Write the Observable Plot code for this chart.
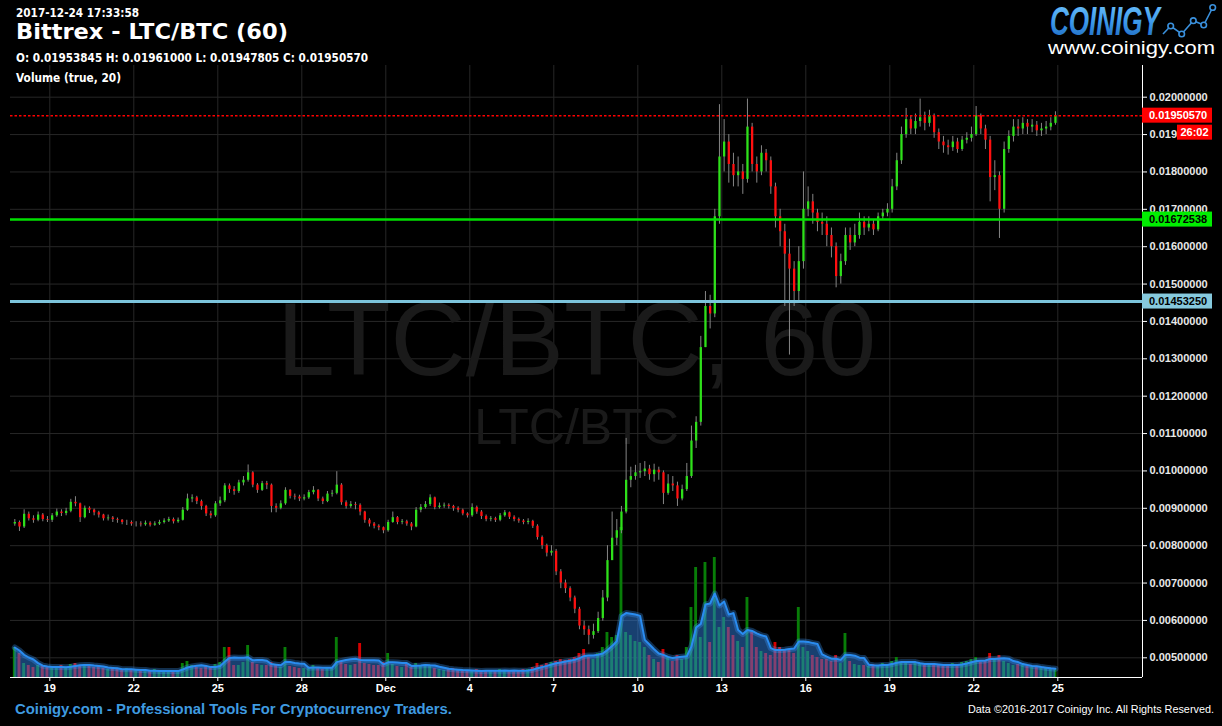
<!DOCTYPE html>
<html><head><meta charset="utf-8">
<script src="https://cdn.jsdelivr.net/npm/d3@7"></script>
<script src="https://cdn.jsdelivr.net/npm/@observablehq/plot@0.6"></script>
<style>
html,body{margin:0;padding:0;background:#000;}
#wrap{position:relative;width:1222px;height:726px;background:#000;overflow:hidden;}
#wrap svg{position:absolute;left:0;top:0;}
</style></head><body><div id="wrap"></div>
<script>
// ---- data (4-hour candles, first candle 2017-11-17 16:00 UTC) ----
const firstOpen = 0.00858;
const closes = [
.00862,.00850,
.00884,.00872,.00868,.00882,.00870,.00868,
.00880,.00890,.00886,.00892,.00916,.00912,
.00875,.00900,.00895,.00888,.00882,.00872,
.00874,.00870,.00868,.00862,.00862,.00858,
.00858,.00856,.00860,.00855,.00858,.00862,
.00866,.00870,.00864,.00868,.00895,.00925,
.00928,.00918,.00905,.00885,.00880,.00912,
.00920,.00960,.00950,.00945,.00968,.00975,
.00995,.00962,.00948,.00966,.00962,.00905,
.00900,.00912,.00948,.00932,.00930,.00925,
.00928,.00942,.00948,.00925,.00918,.00938,
.00940,.00962,.00915,.00905,.00910,.00908,
.00890,.00868,.00858,.00852,.00848,.00840,
.00862,.00875,.00862,.00864,.00858,.00850,
.00895,.00902,.00910,.00928,.00902,.00906,
.00908,.00905,.00900,.00895,.00885,.00880,
.00902,.00890,.00878,.00870,.00872,.00868,
.00880,.00888,.00876,.00870,.00866,.00862,
.00865,.00852,.00822,.00800,.00780,.00785,
.00730,.00700,.00685,.00660,.00630,.00585,
.00575,.00560,.00570,.00605,.00660,.00760,
.00820,.00840,.00890,.00975,.00985,.00995,
.00998,.01005,.00990,.01002,.00995,.00940,
.00965,.00960,.00925,.00950,.00985,.01080,
.01130,.01330,.01440,.01420,.01680,.01840,
.01880,.01820,.01790,.01800,.01780,.01920,
.01820,.01800,.01850,.01830,.01760,.01680,
.01640,.01580,.01540,.01480,.01560,.01700,
.01720,.01690,.01665,.01660,.01630,.01600,
.01520,.01560,.01630,.01610,.01630,.01665,
.01650,.01660,.01645,.01680,.01690,.01700,
.01760,.01830,.01900,.01940,.01915,.01935,
.01945,.01930,.01950,.01905,.01880,.01870,
.01865,.01880,.01860,.01885,.01890,.01900,
.01950,.01915,.01885,.01785,.01790,.01700,
.01860,.01895,.01920,.01915,.01930,.01920,
.01925,.01910,.01915,.01920,.01930,.01950];
const highs = [
.00870,.00866,
.00896,.00890,.00880,.00890,.00886,.00878,
.00886,.00898,.00896,.00900,.00924,.00931,
.00914,.00906,.00904,.00898,.00892,.00884,
.00882,.00878,.00874,.00870,.00868,.00866,
.00864,.00864,.00866,.00864,.00864,.00868,
.00872,.00876,.00874,.00874,.00902,.00938,
.00936,.00932,.00922,.00908,.00892,.00918,
.00930,.00966,.00965,.00958,.00975,.00985,
.01016,.00998,.00966,.00972,.00972,.00965,
.00912,.00920,.00955,.00950,.00938,.00935,
.00936,.00948,.00958,.00950,.00930,.00945,
.00948,.00998,.00966,.00920,.00918,.00916,
.00912,.00892,.00872,.00862,.00856,.00850,
.00868,.00890,.00878,.00870,.00868,.00862,
.00902,.00910,.00918,.00936,.00930,.00914,
.00914,.00912,.00908,.00904,.00898,.00888,
.00912,.00906,.00894,.00882,.00878,.00876,
.00886,.00894,.00890,.00880,.00874,.00870,
.00872,.00868,.00856,.00826,.00804,.00800,
.00790,.00736,.00708,.00690,.00665,.00635,
.00598,.00585,.00590,.00622,.00680,.00800,
.00890,.00870,.00905,.01087,.01010,.01015,
.01020,.01025,.01015,.01018,.01010,.01000,
.00990,.00985,.00970,.00962,.01020,.01120,
.01145,.01360,.01480,.01470,.01700,.01980,
.01940,.01900,.01850,.01840,.01820,.01995,
.01930,.01840,.01870,.01860,.01840,.01770,
.01700,.01660,.01620,.01560,.01600,.01800,
.01760,.01740,.01700,.01690,.01680,.01650,
.01610,.01580,.01650,.01650,.01660,.01690,
.01680,.01680,.01670,.01690,.01700,.01715,
.01780,.01850,.01920,.01970,.01950,.01955,
.01995,.01960,.01965,.01955,.01915,.01895,
.01885,.01895,.01890,.01895,.01905,.01920,
.01975,.01955,.01925,.01895,.01830,.01800,
.01880,.01910,.01940,.01940,.01945,.01940,
.01940,.01935,.01930,.01935,.01945,.01961];
const lows = [
.00852,.00838,
.00846,.00866,.00860,.00864,.00864,.00862,
.00862,.00876,.00878,.00880,.00888,.00904,
.00862,.00872,.00886,.00880,.00874,.00866,
.00866,.00862,.00860,.00856,.00854,.00852,
.00850,.00850,.00852,.00850,.00852,.00854,
.00858,.00862,.00858,.00860,.00866,.00892,
.00915,.00910,.00895,.00878,.00872,.00876,
.00905,.00915,.00940,.00935,.00940,.00960,
.00970,.00955,.00940,.00945,.00950,.00888,
.00888,.00896,.00908,.00925,.00922,.00918,
.00920,.00924,.00936,.00918,.00910,.00915,
.00930,.00936,.00908,.00898,.00900,.00896,
.00880,.00860,.00850,.00845,.00840,.00832,
.00836,.00860,.00856,.00856,.00852,.00840,
.00848,.00888,.00898,.00905,.00896,.00898,
.00900,.00898,.00892,.00888,.00880,.00874,
.00876,.00884,.00870,.00864,.00864,.00862,
.00864,.00876,.00870,.00864,.00860,.00856,
.00856,.00846,.00815,.00790,.00770,.00772,
.00720,.00685,.00672,.00650,.00618,.00575,
.00560,.00535,.00550,.00565,.00598,.00650,
.00770,.00800,.00832,.00885,.00955,.00975,
.00980,.00985,.00975,.00970,.00975,.00910,
.00935,.00945,.00905,.00920,.00945,.00980,
.01060,.01120,.01330,.01380,.01410,.01660,
.01800,.01770,.01760,.01760,.01740,.01770,
.01800,.01770,.01790,.01800,.01740,.01650,
.01600,.01440,.01310,.01440,.01450,.01540,
.01680,.01660,.01640,.01630,.01600,.01570,
.01490,.01500,.01550,.01590,.01600,.01620,
.01630,.01640,.01630,.01640,.01670,.01680,
.01690,.01750,.01820,.01890,.01900,.01900,
.01920,.01910,.01920,.01890,.01860,.01850,
.01845,.01855,.01850,.01855,.01875,.01880,
.01895,.01900,.01860,.01720,.01750,.01622,
.01690,.01850,.01880,.01895,.01900,.01900,
.01905,.01895,.01895,.01900,.01910,.01925];
const volumes = [
30,24,
14,12,10,12,11,10,
10,9,12,10,13,14,
12,13,11,10,12,9,
8,9,8,7,9,8,
7,6,7,6,8,6,
6,7,6,7,14,16,
12,10,9,11,10,13,
15,30,30,12,12,15,
32,15,13,12,12,15,
12,10,30,11,10,9,
9,10,12,10,8,9,
10,40,16,13,12,13,
34,14,13,12,12,15,
24,13,11,10,14,10,
14,12,13,12,9,8,
7,8,9,7,6,6,
7,8,6,7,6,7,
8,7,6,7,6,8,
8,10,14,12,14,15,
16,18,17,18,20,24,
28,20,18,24,30,45,
40,42,150,45,42,36,
35,30,22,18,15,28,
20,16,22,18,30,70,
110,40,115,35,120,50,
60,50,42,36,30,80,
45,30,26,24,22,35,
30,28,28,24,70,30,
26,22,20,18,18,16,
22,14,44,16,13,12,
12,11,13,12,14,12,
16,20,15,14,13,15,
14,12,13,14,12,11,
12,14,13,15,16,18,
20,15,16,24,18,22,
16,14,12,13,12,11,
10,10,9,9,8,8];
const priceTicks = [0.005,0.006,0.007,0.008,0.009,0.010,0.011,0.012,0.013,0.014,0.015,0.016,0.017,0.018,0.019,0.020];
const dayTicks = ["2017-11-19","2017-11-22","2017-11-25","2017-11-28","2017-12-01","2017-12-04","2017-12-07","2017-12-10","2017-12-13","2017-12-16","2017-12-19","2017-12-22","2017-12-25"];
const dayLabels = ["19","22","25","28","Dec","4","7","10","13","16","19","22","25"];
const levelPrices = [0.0195057, 0.01672538, 0.0145325];
const levelTexts = ["0.01950570", "0.01672538", "0.01453250"];
const countdown = "26:02";

// ---- build ----
const H4 = 4 * 3600e3;
const start = Date.UTC(2017, 10, 17, 16);
const candles = closes.map((c, i) => {
  const o = i ? closes[i - 1] : firstOpen;
  return {t0: new Date(start + i * H4), t1: new Date(start + (i + 1) * H4), tm: new Date(start + i * H4 + H4 / 2),
    open: o, close: c, high: highs[i], low: lows[i], vol: volumes[i], up: c >= o};
});
const ups = candles.filter(d => d.up), downs = candles.filter(d => !d.up);
const tickDates = dayTicks.map(s => new Date(s + "T00:00:00Z"));
const labelMap = new Map(tickDates.map((d, i) => [+d, dayLabels[i]]));
const xDomain = [new Date(Date.UTC(2017, 10, 17, 14, 19)), new Date(Date.UTC(2017, 11, 28, 0, 36))];
const yDomain = [0.004473, 0.020848];
const common = {width: 1222, height: 726, marginLeft: 10, marginRight: 80, marginTop: 65, marginBottom: 49};
const wrap = document.getElementById("wrap");
const FONT = "Liberation Sans, Arial, sans-serif";

// layer A: background grid + watermark
const plotA = Plot.plot({...common,
  x: {type: "utc", domain: xDomain, axis: null}, y: {domain: yDomain, axis: null},
  style: {background: "#000"},
  marks: [
    Plot.gridY(priceTicks, {stroke: "#272727", strokeOpacity: 1}),
    Plot.gridX(tickDates, {stroke: "#272727", strokeOpacity: 1}),
    Plot.text(["LTC/BTC, 60"], {text: d => d, frameAnchor: "middle", dy: -30, fontSize: 104, fill: "#1a1a1a", fontFamily: FONT}),
    Plot.text(["LTC/BTC"], {text: d => d, frameAnchor: "middle", dy: 56, fontSize: 50, fill: "#1a1a1a", fontFamily: FONT})
  ]});
wrap.appendChild(plotA);

// layer B: volume + MA(20 hours ~ 5 four-hour bars)
const plotB = Plot.plot({...common,
  x: {type: "utc", domain: xDomain, axis: null}, y: {domain: [0, 612], axis: null},
  style: {background: "transparent"},
  marks: [
    Plot.rect(ups, {x1: "t0", x2: "t1", y1: 0, y2: "vol", fill: "#087d08", insetLeft: 0.9, insetRight: 0.9}),
    Plot.rect(downs, {x1: "t0", x2: "t1", y1: 0, y2: "vol", fill: "#d60000", insetLeft: 0.9, insetRight: 0.9}),
    Plot.areaY(candles, Plot.windowY({k: 5, anchor: "end"}, {x: "tm", y: "vol", fill: "#2f80e0", fillOpacity: 0.5})),
    Plot.lineY(candles, Plot.windowY({k: 5, anchor: "end"}, {x: "tm", y: "vol", stroke: "#3a9cff", strokeWidth: 6, strokeOpacity: 0.3})),
    Plot.lineY(candles, Plot.windowY({k: 5, anchor: "end"}, {x: "tm", y: "vol", stroke: "#2a8cf0", strokeWidth: 2}))
  ]});
wrap.appendChild(plotB);

// layer C: candles, levels, axes
const plotC = Plot.plot({...common,
  x: {type: "utc", domain: xDomain}, y: {domain: yDomain},
  style: {background: "transparent", color: "#e8e8e8", fontFamily: FONT, fontSize: "11px", fontWeight: "bold"},
  marks: [
    Plot.ruleX(candles, {x: "tm", y1: "low", y2: "high", stroke: "#858585", strokeWidth: 1}),
    Plot.ruleX(ups, {x: "tm", y1: "open", y2: "close", stroke: "#2ee01a", strokeWidth: 2.3}),
    Plot.ruleX(downs, {x: "tm", y1: "open", y2: "close", stroke: "#ff1010", strokeWidth: 2.3}),
    Plot.ruleY([levelPrices[2]], {stroke: "#7cc4dc", strokeWidth: 3}),
    Plot.ruleY([levelPrices[1]], {stroke: "#00e000", strokeWidth: 2.5}),
    Plot.ruleY([levelPrices[0]], {stroke: "#ff0000", strokeWidth: 1.5, strokeDasharray: "2.5,2"}),
    Plot.ruleX([xDomain[1]], {stroke: "#ffffff"}),
    Plot.ruleY([yDomain[0]], {stroke: "#ffffff"}),
    Plot.axisY(priceTicks, {anchor: "right", tickSize: 4, tickPadding: 3, tickFormat: d => d.toFixed(8), stroke: "#ffffff", fill: "#e8e8e8", label: null}),
    Plot.axisX(tickDates, {anchor: "bottom", tickSize: 4, tickPadding: 3, tickFormat: d => labelMap.get(+d), stroke: "#ffffff", fill: "#ffffff", label: null})
  ]});
wrap.appendChild(plotC);

// price tags on the right axis, placed through the y scale
const ys = plotC.scale("y");
const svgC = d3.select(plotC);
const xr = common.width - common.marginRight;
const tagStyles = [{bg: "#ff0000", fg: "#ffffff"}, {bg: "#00ee00", fg: "#000000"}, {bg: "#86c9dd", fg: "#000000"}];
levelPrices.forEach((p, i) => {
  const y = ys.apply(p);
  svgC.append("rect").attr("x", xr).attr("y", y - 7.5).attr("width", 70).attr("height", 15).attr("fill", tagStyles[i].bg);
  svgC.append("text").attr("x", xr + 7).attr("y", y + 4).attr("fill", tagStyles[i].fg).attr("text-anchor", "start")
    .attr("font-family", FONT).attr("font-size", 11).attr("font-weight", "bold").text(levelTexts[i]);
  if (i === 0) {
    svgC.append("rect").attr("x", xr + 35).attr("y", y + 9.5).attr("width", 35).attr("height", 15).attr("fill", "#ff0000");
    svgC.append("text").attr("x", xr + 52.5).attr("y", y + 21).attr("text-anchor", "middle").attr("fill", "#fff")
      .attr("font-family", FONT).attr("font-size", 11).attr("font-weight", "bold").text(countdown);
  }
});

// header, logo, footer
const hdr = d3.select(wrap).append("svg").attr("width", 1222).attr("height", 726).style("pointer-events", "none");
const defs = hdr.append("defs");
const lg = defs.append("linearGradient").attr("id", "logoGrad").attr("x1", 0).attr("y1", 0).attr("x2", 0).attr("y2", 1);
lg.append("stop").attr("offset", 0).attr("stop-color", "#74c8ff");
lg.append("stop").attr("offset", 0.55).attr("stop-color", "#3a96e8");
lg.append("stop").attr("offset", 1).attr("stop-color", "#1a62b8");
function txt(s, x, y, size, opts = {}) {
  const t = hdr.append("text").attr("x", x).attr("y", y).attr("font-size", size)
    .attr("font-family", opts.family || "DejaVu Sans, Verdana, sans-serif")
    .attr("font-weight", opts.weight || "bold").attr("fill", opts.fill || "#fff").text(s);
  if (opts.len) t.attr("textLength", opts.len).attr("lengthAdjust", "spacingAndGlyphs");
  if (opts.style) t.attr("font-style", opts.style);
  return t;
}
txt("2017-12-24 17:33:58", 16, 16.5, 12, {len: 123});
txt("Bittrex - LTC/BTC (60)", 16, 39, 22, {len: 272});
txt("O: 0.01953845 H: 0.01961000 L: 0.01947805 C: 0.01950570", 16, 61.5, 11.5, {len: 352});
txt("Volume (true, 20)", 16, 81.5, 11.5, {len: 105});
txt("COINIGY", 1050, 35, 40, {family: "Liberation Sans Narrow, Liberation Sans, Arial, sans-serif", style: "italic", fill: "url(#logoGrad)", len: 110});
txt("www.coinigy.com", 1048, 54, 18, {family: FONT, weight: "normal", len: 167});
const pts = [[1163, 34], [1170.7, 26], [1181.7, 34], [1193.3, 20.7], [1203.7, 25], [1212.7, 7.5]];
hdr.append("polyline").attr("points", pts.map(p => p.join(",")).join(" ")).attr("fill", "none").attr("stroke", "#3a90dc").attr("stroke-width", 1.6);
pts.slice(1).forEach(p => hdr.append("circle").attr("cx", p[0]).attr("cy", p[1]).attr("r", 2.8).attr("fill", "#000").attr("stroke", "#3a90dc").attr("stroke-width", 1.6));
txt("Coinigy.com - Professional Tools For Cryptocurrency Traders.", 15, 714, 14, {family: FONT, fill: "#3f9be0", len: 437});
txt("Data \u00a92016-2017 Coinigy Inc. All Rights Reserved.", 968, 713, 10.5, {family: FONT, weight: "normal", len: 246});
</script></body></html>
